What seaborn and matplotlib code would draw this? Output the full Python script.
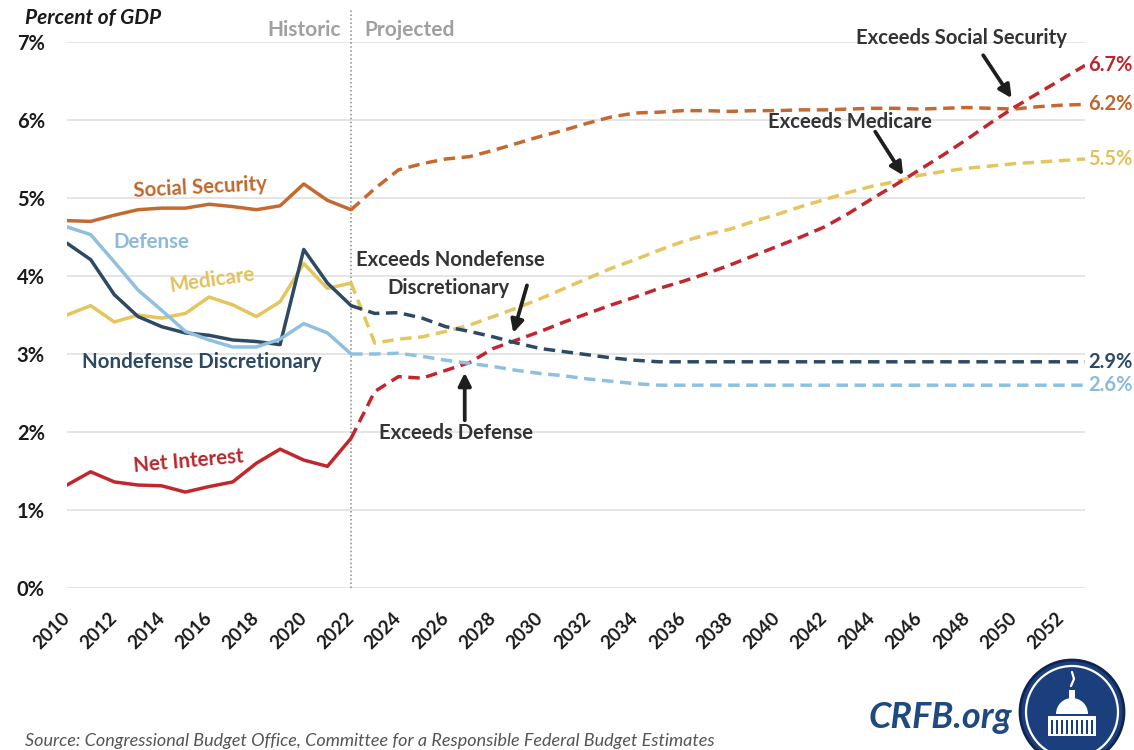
import matplotlib
matplotlib.use("Agg")
import matplotlib.pyplot as plt
import seaborn as sns
import pandas as pd
from matplotlib.patches import Circle, Rectangle, Wedge

# ---- data (percent of GDP) ----
years_hist = list(range(2010, 2023))
years_proj = list(range(2022, 2054))

social_security_hist = [4.71, 4.70, 4.78, 4.85, 4.87, 4.87, 4.92, 4.89, 4.85, 4.90, 5.18, 4.97, 4.85]
defense_hist = [4.63, 4.53, 4.18, 3.82, 3.56, 3.29, 3.18, 3.09, 3.09, 3.19, 3.39, 3.27, 3.00]
nondefense_hist = [4.42, 4.21, 3.76, 3.48, 3.35, 3.27, 3.24, 3.18, 3.16, 3.12, 4.34, 3.91, 3.62]
medicare_hist = [3.50, 3.62, 3.41, 3.50, 3.46, 3.52, 3.73, 3.63, 3.48, 3.67, 4.16, 3.84, 3.91]
net_interest_hist = [1.32, 1.49, 1.36, 1.32, 1.31, 1.23, 1.30, 1.36, 1.60, 1.78, 1.64, 1.56, 1.92]

social_security_proj = [4.85, 5.12, 5.36, 5.44, 5.50, 5.53, 5.61, 5.70, 5.79, 5.87, 5.96, 6.04,
                        6.09, 6.10, 6.12, 6.12, 6.11, 6.12, 6.12, 6.13, 6.13, 6.14, 6.15, 6.15,
                        6.14, 6.15, 6.16, 6.15, 6.14, 6.17, 6.19, 6.20]
medicare_proj = [3.91, 3.14, 3.19, 3.22, 3.29, 3.37, 3.48, 3.59, 3.71, 3.84, 3.97, 4.10,
                 4.21, 4.33, 4.44, 4.53, 4.60, 4.70, 4.79, 4.89, 4.98, 5.07, 5.15, 5.21,
                 5.29, 5.34, 5.38, 5.41, 5.44, 5.46, 5.48, 5.50]
net_interest_proj = [1.92, 2.52, 2.71, 2.69, 2.79, 2.89, 3.07, 3.18, 3.29, 3.41, 3.52, 3.63,
                     3.73, 3.84, 3.93, 4.03, 4.14, 4.26, 4.38, 4.50, 4.63, 4.80, 4.99, 5.17,
                     5.36, 5.55, 5.75, 5.96, 6.16, 6.34, 6.52, 6.70]
nondefense_proj = [3.62, 3.52, 3.53, 3.46, 3.35, 3.29, 3.22, 3.14, 3.07, 3.03, 2.99, 2.95,
                   2.92, 2.90, 2.90, 2.90, 2.90, 2.90, 2.90, 2.90, 2.90, 2.90, 2.90, 2.90,
                   2.90, 2.90, 2.90, 2.90, 2.90, 2.90, 2.90, 2.90]
defense_proj = [3.00, 3.00, 3.01, 2.97, 2.92, 2.88, 2.84, 2.79, 2.75, 2.72, 2.68, 2.65,
                2.62, 2.60, 2.60, 2.60, 2.60, 2.60, 2.60, 2.60, 2.60, 2.60, 2.60, 2.60,
                2.60, 2.60, 2.60, 2.60, 2.60, 2.60, 2.60, 2.60]

series_names = ["Social Security", "Medicare", "Net Interest", "Nondefense Discretionary", "Defense"]
x_ticks = list(range(2010, 2053, 2))
x_tick_labels = [str(y) for y in x_ticks]
y_ticks = [0, 1, 2, 3, 4, 5, 6, 7]
y_tick_labels = ["0%", "1%", "2%", "3%", "4%", "5%", "6%", "7%"]

colors = {
    "Social Security": "#C46A30",
    "Medicare": "#E5C55E",
    "Net Interest": "#C1272D",
    "Nondefense Discretionary": "#2E4A63",
    "Defense": "#8FC0DF",
}
label_colors = {
    "Social Security": "#C0662B",
    "Medicare": "#E2C15B",
    "Net Interest": "#B8272E",
    "Nondefense Discretionary": "#2C4A64",
    "Defense": "#8CBBDA",
}

hist_values = {
    "Social Security": social_security_hist,
    "Medicare": medicare_hist,
    "Net Interest": net_interest_hist,
    "Nondefense Discretionary": nondefense_hist,
    "Defense": defense_hist,
}
proj_values = {
    "Social Security": social_security_proj,
    "Medicare": medicare_proj,
    "Net Interest": net_interest_proj,
    "Nondefense Discretionary": nondefense_proj,
    "Defense": defense_proj,
}

rows = []
for name in series_names:
    for yr, v in zip(years_hist, hist_values[name]):
        rows.append({"series": name, "year": yr, "value": v, "period": "Historic"})
    for yr, v in zip(years_proj, proj_values[name]):
        rows.append({"series": name, "year": yr, "value": v, "period": "Projected"})
df = pd.DataFrame(rows)

# ---- styling ----
sns.set_theme(style="white")
plt.rcParams["font.family"] = ["Lato", "DejaVu Sans"]

W, H = 1134, 750
fig = plt.figure(figsize=(W / 100, H / 100), dpi=100)
fig.patch.set_facecolor("white")
ax = fig.add_axes([67 / W, 162 / H, 1018 / W, 546 / H])

for name in series_names:
    sub = df[df["series"] == name]
    sns.lineplot(data=sub, x="year", y="value", style="period",
                 style_order=["Historic", "Projected"],
                 dashes={"Historic": "", "Projected": (3.3, 1.9)},
                 color=colors[name], linewidth=2.5, legend=False, ax=ax)

ax.set_xlim(2010, 2053)
ax.set_ylim(0, 7)
for s in ax.spines.values():
    s.set_visible(False)
ax.yaxis.grid(True, color="#dedede", linewidth=1.1)
ax.xaxis.grid(False)
ax.set_axisbelow(True)
ax.set_xlabel("")
ax.set_ylabel("")

ax.set_yticks(y_ticks)
ax.set_yticklabels(y_tick_labels, fontsize=14.5, fontweight="bold", color="#1a1a1a")
ax.set_xticks(x_ticks)
ax.set_xticklabels(x_tick_labels, rotation=45, ha="right", va="center",
                   rotation_mode="anchor", fontsize=13.5, fontweight="bold", color="#1a1a1a")
ax.tick_params(axis="y", length=0, pad=16)
ax.tick_params(axis="x", length=0, pad=20)

# historic / projected divider
ax.plot([2022, 2022], [0, 7.42], linestyle=(0, (1, 1.6)), color="#8a8a8a",
        linewidth=1.1, clip_on=False, zorder=1)
ax.text(2021.55, 7.15, "Historic", ha="right", va="center", fontsize=15,
        fontweight="bold", color="#a0a0a0")
ax.text(2022.55, 7.15, "Projected", ha="left", va="center", fontsize=15,
        fontweight="bold", color="#a0a0a0")

# series names
lab_kw = dict(ha="center", va="center", fontsize=14.8, fontweight="bold")
ax.text(2015.62, 5.14, "Social Security", color=label_colors["Social Security"],
        rotation=3, **lab_kw)
ax.text(2013.55, 4.44, "Defense", color=label_colors["Defense"], **lab_kw)
ax.text(2016.12, 3.95, "Medicare", color=label_colors["Medicare"], rotation=8, **lab_kw)
ax.text(2015.7, 2.9, "Nondefense Discretionary",
        color=label_colors["Nondefense Discretionary"], **lab_kw)
ax.text(2015.15, 1.63, "Net Interest", color=label_colors["Net Interest"],
        rotation=5, **lab_kw)

# end-of-line values
for name in series_names:
    v = proj_values[name][-1]
    ax.text(2053.15, v, f"{v:.1f}%", ha="left", va="center", fontsize=14.5,
            fontweight="bold", color=label_colors[name], clip_on=False)

# crossover annotations
note_kw = dict(ha="center", va="center", fontsize=14.6, fontweight="bold", color="#333333")
arrow_kw = dict(arrowstyle="-|>", color="#1e1e1e", lw=2.7, mutation_scale=19,
                shrinkA=0, shrinkB=0)
ax.text(2026.18, 4.2, "Exceeds Nondefense", **note_kw)
ax.text(2026.1, 3.85, "Discretionary", **note_kw)
ax.annotate("", xy=(2028.85, 3.27), xytext=(2029.43, 3.88), arrowprops=arrow_kw)
ax.text(2026.43, 1.99, "Exceeds Defense", **note_kw)
ax.annotate("", xy=(2026.8, 2.76), xytext=(2026.8, 2.15), arrowprops=arrow_kw)
ax.text(2043.08, 5.97, "Exceeds Medicare", **note_kw)
ax.annotate("", xy=(2045.32, 5.29), xytext=(2044.14, 5.85), arrowprops=arrow_kw)
ax.text(2047.77, 7.05, "Exceeds Social Security", clip_on=False, **note_kw)
ax.annotate("", xy=(2049.9, 6.28), xytext=(2048.7, 6.83), arrowprops=arrow_kw,
            annotation_clip=False)

# ---- header, source and branding ----
fig.text(25 / W, 1 - 18 / H, "Percent of GDP", ha="left", va="center", fontsize=15,
         fontweight="bold", fontstyle="italic", color="#1a1a1a")
fig.text(25 / W, 1 - 741 / H, "Source: Congressional Budget Office, Committee for a "
         "Responsible Federal Budget Estimates", ha="left", va="center", fontsize=13,
         fontstyle="italic", color="#555555")
fig.text(1012 / W, 1 - 718 / H, "CRFB.org", ha="right", va="center", fontsize=26,
         fontweight="bold", fontstyle="italic", color="#1F4A80")

deco = fig.add_axes([0, 0, 1, 1], zorder=5)
deco.set_xlim(0, W)
deco.set_ylim(H, 0)
deco.axis("off")
cx, cy = 1072, 712
deco.add_patch(Circle((cx, cy), 52, facecolor="#1B3F7C", edgecolor="#0F2550", lw=2))
deco.add_patch(Circle((cx, cy), 46, facecolor="none", edgecolor="white", lw=1.6))
deco.add_patch(Wedge((cx, cy + 2), 16, 180, 360, facecolor="white", edgecolor="none"))
deco.add_patch(Rectangle((cx - 3, cy - 22), 6, 9, facecolor="white", edgecolor="none"))
deco.add_patch(Rectangle((cx - 24, cy + 4), 48, 20, facecolor="white", edgecolor="none"))
for i in range(9):
    deco.add_patch(Rectangle((cx - 21 + i * 5, cy + 8), 1.6, 14, facecolor="#1B3F7C",
                             edgecolor="none"))
deco.plot([cx, cx + 2, cx - 1], [cy - 40, cy - 33, cy - 26], color="white", lw=1.6)

fig.savefig("out.png", dpi=100, facecolor="white")
